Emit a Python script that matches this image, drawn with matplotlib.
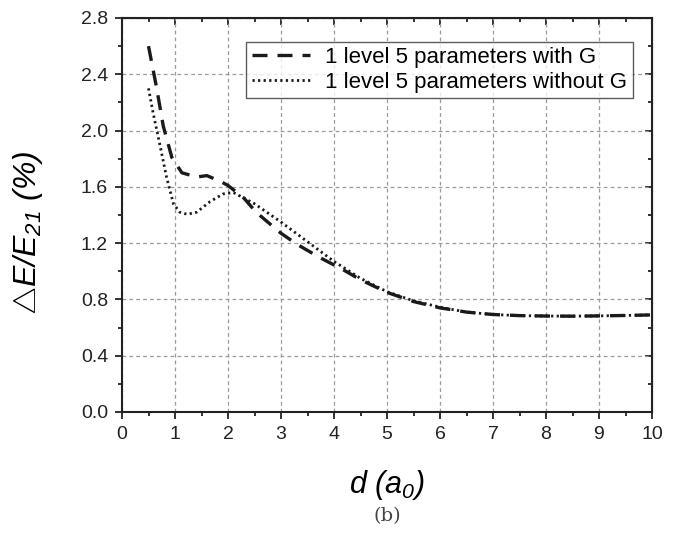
#!/usr/bin/env python
"""Relative energy error vs distance, two 1-level 5-parameter fits."""
import matplotlib
matplotlib.use("Agg")
import matplotlib.pyplot as plt
from matplotlib.ticker import MultipleLocator

plt.rcParams["font.family"] = ["Liberation Sans", "DejaVu Sans"]
plt.rcParams["mathtext.fontset"] = "custom"
plt.rcParams["mathtext.rm"] = "Liberation Sans:italic"
plt.rcParams["mathtext.it"] = "Liberation Sans:italic"

# values
d_with = [0.5, 0.65, 0.78, 0.94, 1.13, 1.41, 1.60, 1.85, 2.0, 2.3, 2.53,
          3.0, 3.31, 3.72, 4.0, 4.2, 4.5, 5.0, 5.5, 6.0, 6.5, 7.0, 7.5,
          8.0, 8.5, 9.0, 9.5, 10.0]
e_with = [2.60, 2.31, 2.03, 1.81, 1.70, 1.67, 1.68, 1.64, 1.61, 1.52, 1.42,
          1.27, 1.19, 1.10, 1.045, 1.005, 0.94, 0.85, 0.785, 0.74, 0.71,
          0.693, 0.685, 0.682, 0.681, 0.683, 0.686, 0.69]

d_without = [0.5, 0.59, 0.72, 0.84, 0.97, 1.09, 1.23, 1.41, 1.66, 1.91,
             2.10, 2.5, 3.0, 3.5, 4.0, 4.5, 5.0, 5.5, 6.0, 6.5, 7.0, 7.5,
             8.0, 8.5, 9.0, 9.5, 10.0]
e_without = [2.30, 2.12, 1.89, 1.67, 1.48, 1.42, 1.405, 1.42, 1.495, 1.55,
             1.56, 1.48, 1.35, 1.21, 1.07, 0.95, 0.855, 0.79, 0.745, 0.71,
             0.693, 0.685, 0.682, 0.681, 0.683, 0.686, 0.69]

fig = plt.figure(figsize=(6.89, 5.38), dpi=100)
ax = fig.add_axes([122 / 689, 1 - 412 / 538, 530 / 689, 394 / 538])

ax.plot(d_with, e_with, color="#1a1a1a", lw=2.4, dashes=(4.5, 3),
        label="1 level 5 parameters with G")
ax.plot(d_without, e_without, color="#1a1a1a", lw=2.0, dashes=(0.8, 1.2),
        label="1 level 5 parameters without G")

ax.set_xlim(0, 10)
ax.set_ylim(0, 2.8)
ax.xaxis.set_major_locator(MultipleLocator(1))
ax.xaxis.set_minor_locator(MultipleLocator(0.5))
ax.yaxis.set_major_locator(MultipleLocator(0.4))
ax.yaxis.set_minor_locator(MultipleLocator(0.2))
ax.set_yticklabels([f"{v:.1f}" for v in ax.get_yticks()])

ax.grid(True, which="major", color="#9a9a9a", lw=0.9, ls=(0, (3, 2.5)))
for s in ax.spines.values():
    s.set_linewidth(1.5)
    s.set_color("#222222")
ax.tick_params(which="both", direction="out", labelsize=14, width=1.3,
               colors="#222222", pad=5)
ax.tick_params(which="major", length=5)
ax.tick_params(which="minor", length=3)
ax2 = ax.secondary_xaxis("top")
ax3 = ax.secondary_yaxis("right")
for sec in (ax2, ax3):
    sec.tick_params(which="both", direction="in", width=1.3,
                    colors="#222222", labelleft=False, labelright=False,
                    labeltop=False, labelbottom=False)
    sec.tick_params(which="major", length=5)
    sec.tick_params(which="minor", length=3)
ax2.xaxis.set_major_locator(MultipleLocator(1))
ax2.xaxis.set_minor_locator(MultipleLocator(0.5))
ax3.yaxis.set_major_locator(MultipleLocator(0.4))
ax3.yaxis.set_minor_locator(MultipleLocator(0.2))

ax.set_ylabel(r"$\bigtriangleup E/E_{21}$ (%)", fontsize=23, style="italic")
ax.yaxis.set_label_coords(-0.145, 0.455)
ax.set_xlabel(r"$d$ ($a_0$)", fontsize=22, style="italic", labelpad=18)

leg = ax.legend(loc="upper right", bbox_to_anchor=(0.964, 0.94),
                fontsize=16, frameon=True, fancybox=False,
                handlelength=2.6, borderpad=0.25, labelspacing=0.15,
                handletextpad=0.7, borderaxespad=0)
leg.get_frame().set_edgecolor("#333333")
leg.get_frame().set_linewidth(1.0)

fig.text(387 / 689, 1 - 516 / 538, "(b)", ha="center", va="center",
         fontsize=14, family="DejaVu Serif", color="#444444")

fig.savefig("out.png", dpi=100)
